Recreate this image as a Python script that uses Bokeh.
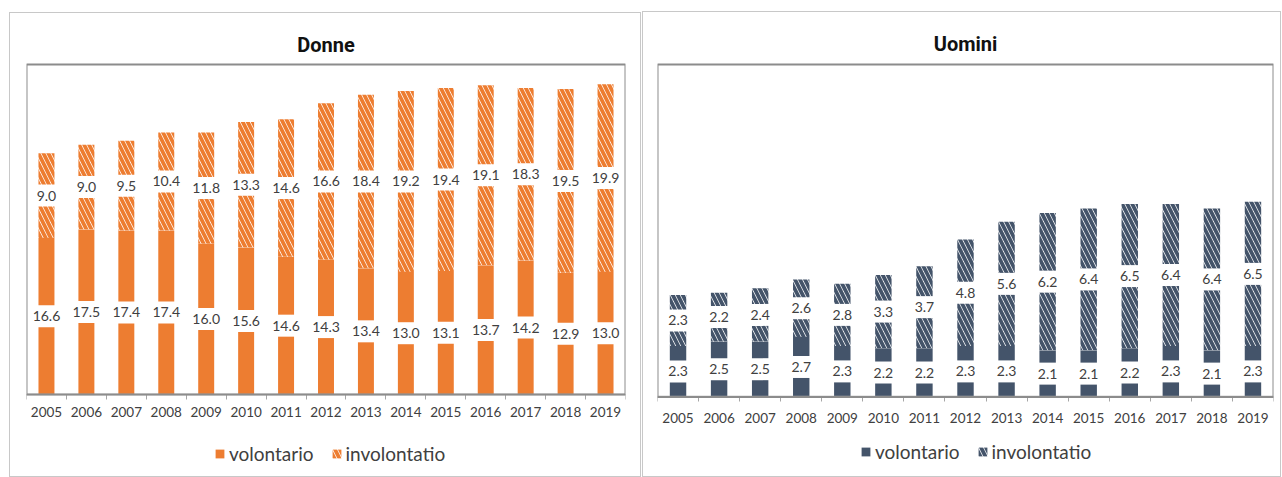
from bokeh.plotting import figure
from bokeh.models import Range1d, FixedTicker, Legend, LegendItem, ColumnDataSource, BoxAnnotation
from bokeh.layouts import row
from bokeh.embed import file_html
from bokeh.resources import INLINE
from bokeh.core.properties import value

years = ["2005", "2006", "2007", "2008", "2009", "2010", "2011", "2012",
         "2013", "2014", "2015", "2016", "2017", "2018", "2019"]
donne_vol = [16.6, 17.5, 17.4, 17.4, 16.0, 15.6, 14.6, 14.3, 13.4, 13.0, 13.1, 13.7, 14.2, 12.9, 13.0]
donne_invol = [9.0, 9.0, 9.5, 10.4, 11.8, 13.3, 14.6, 16.6, 18.4, 19.2, 19.4, 19.1, 18.3, 19.5, 19.9]
uomini_vol = [2.3, 2.5, 2.5, 2.7, 2.3, 2.2, 2.2, 2.3, 2.3, 2.1, 2.1, 2.2, 2.3, 2.1, 2.3]
uomini_invol = [2.3, 2.2, 2.4, 2.6, 2.8, 3.3, 3.7, 4.8, 5.6, 6.2, 6.4, 6.5, 6.4, 6.4, 6.5]
legend_labels = ["volontario", "involontatio"]

FONT = "Lato"


def make_panel(title, vol, invol, color, ymax, w, h, left_b, right_b, top_b,
               box_top, base_y, margin, std, leg_xy):
    """box_top / base_y: pixel rows (inside the figure) of the plot box top and of the x axis."""
    n = len(years)
    idx = list(range(n))
    tot = [a + b for a, b in zip(vol, invol)]
    src = ColumnDataSource(dict(
        x=idx, vol=vol, invol=invol, tot=tot,
        vol_mid=[v / 2 for v in vol],
        invol_mid=[v + i / 2 for v, i in zip(vol, invol)],
        vol_lab=[f"{v:.1f}" for v in vol],
        invol_lab=[f"{v:.1f}" for v in invol],
    ))
    k = (base_y - box_top) / ymax          # pixels per unit
    y_end = ymax + (box_top - top_b) / k
    y_start = -(h - base_y) / k
    p = figure(width=w, height=h, x_range=Range1d(-0.5, n - 0.5), y_range=Range1d(y_start, y_end),
               output_backend="svg", toolbar_location=None, y_axis_location=None,
               min_border_left=left_b, min_border_right=right_b, min_border_top=top_b,
               min_border_bottom=0, margin=margin, title=title,
               styles={"border": "1px solid #c8c8c8", "box-sizing": "border-box"})
    p.title.align = "center"
    p.title.text_font = "Roboto"
    p.title.text_font_style = "bold"
    p.title.text_font_size = "20px"
    p.title.text_color = "#111111"
    p.title.standoff = 6
    p.xgrid.visible = False
    p.ygrid.visible = False
    p.outline_line_color = None
    p.background_fill_color = "white"
    p.border_fill_color = "white"

    p.add_layout(BoxAnnotation(left=-0.5, right=n - 0.5, bottom=0, top=ymax,
                               fill_color=None, fill_alpha=0,
                               line_color="#8c8c8c", line_alpha=1.0, line_width=2))

    r1 = p.vbar(x="x", bottom=0, top="vol", width=0.4, source=src, fill_color=color, line_color=None)
    r2 = p.vbar(x="x", bottom="vol", top="tot", width=0.4, source=src, fill_color="white",
                line_color=None, hatch_pattern="left_diagonal_line", hatch_color=color,
                hatch_scale=10, hatch_weight=3.8)

    for ycol, tcol in (("vol_mid", "vol_lab"), ("invol_mid", "invol_lab")):
        p.text(x="x", y=ycol, text=tcol, source=src, text_align="center", text_baseline="middle",
               text_font=value(FONT), text_font_size="14px", text_color="#404040",
               background_fill_color="white", padding=dict(left=2, right=2, top=6, bottom=6))

    ax = p.xaxis[0]
    ax.fixed_location = 0
    ax.ticker = FixedTicker(ticks=idx, minor_ticks=[i - 0.5 for i in range(n + 1)])
    ax.major_label_overrides = {i: y for i, y in enumerate(years)}
    ax.major_tick_line_color = None
    ax.major_tick_out = 0
    ax.major_tick_in = 0
    ax.minor_tick_line_color = "#a6a6a6"
    ax.minor_tick_out = 5
    ax.minor_tick_in = 0
    ax.axis_line_color = "#a6a6a6"
    ax.axis_line_width = 1.5
    ax.major_label_text_font = FONT
    ax.major_label_text_font_size = "13.5px"
    ax.major_label_text_color = "#404040"
    ax.major_label_standoff = std

    legend = Legend(items=[LegendItem(label=legend_labels[0], renderers=[r1]),
                           LegendItem(label=legend_labels[1], renderers=[r2])],
                    orientation="horizontal", location=leg_xy,
                    border_line_color=None, background_fill_alpha=0,
                    label_text_font=FONT, label_text_font_size="19px", label_text_color="#404040",
                    glyph_width=11, glyph_height=11, label_standoff=4, spacing=17,
                    padding=0, margin=0)
    p.add_layout(legend, "center")
    return p


left = make_panel("Donne", donne_vol, donne_invol, "#ED7D31", 35, 632, 465,
                  16, 17, 46, 51, 381, (12, 1, 0, 9), 7, (188, 13))
right = make_panel("Uomini", uomini_vol, uomini_invol, "#44546A", 15, 639, 466,
                   14, 9, 44, 50, 384, (11, 0, 0, 0), 11, (203, 15))

layout = row(left, right)
open("out.html", "w").write(file_html(layout, INLINE))
